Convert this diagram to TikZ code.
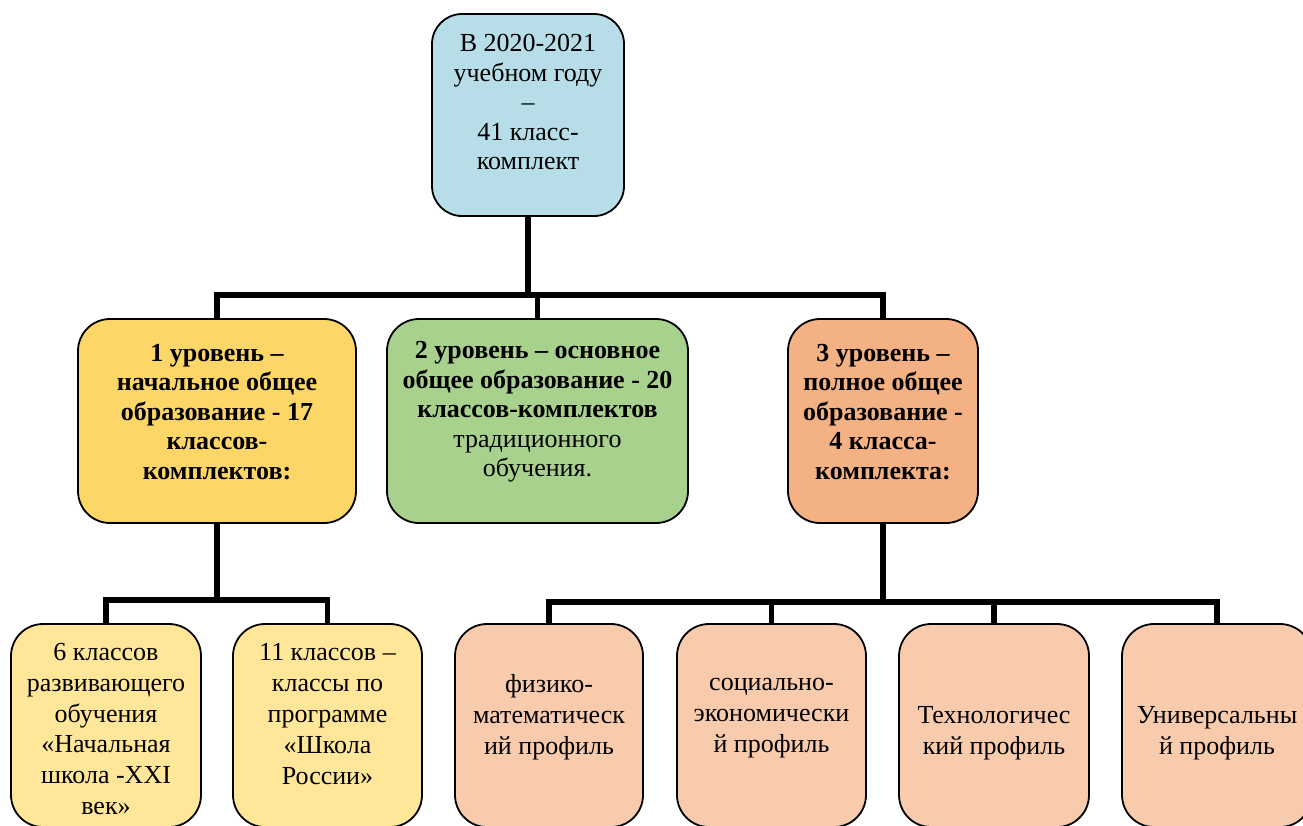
\documentclass[tikz,border=0pt]{standalone}
\usepackage{fontspec}
\setmainfont{Liberation Serif}
\definecolor{cTop}{HTML}{B7DEE8}
\definecolor{cL1}{HTML}{FDD668}
\definecolor{cL2}{HTML}{A9D18E}
\definecolor{cL3}{HTML}{F4B183}
\definecolor{cB1}{HTML}{FFE699}
\definecolor{cB3}{HTML}{F8CBAD}
\begin{document}
\begin{tikzpicture}[x=1pt,y=-1pt,
  box/.style={draw=black, line width=1.8pt, rounded corners=32pt, inner sep=0pt, outer sep=0pt},
  txt/.style={align=center, inner sep=0pt, font=\fontsize{26}{29.5}\selectfont},
  txtb/.style={align=center, inner sep=0pt, font=\fontsize{26}{30.9}\selectfont},
  conn/.style={line width=5.5pt, black}]
\clip (0,0) rectangle (1303,825);
% top
\node[box, fill=cTop, minimum width=192pt, minimum height=202pt, rounded corners=30pt] (top) at (528,115) {};
\node[txt] (topt) at (528,102) {В 2020-2021\\учебном году\\–\\41 класс-\\комплект};
% level 2
\node[box, fill=cL1, minimum width=278pt, minimum height=204pt] (l1) at (217,421) {};
\node[box, fill=cL2, minimum width=301pt, minimum height=204pt] (l2) at (537.5,421) {};
\node[box, fill=cL3, minimum width=190pt, minimum height=204pt] (l3) at (883,421) {};
\node[txt, font=\fontsize{26}{29.5}\selectfont\bfseries] (l1t) at (217,412) {1 уровень –\\начальное общее\\образование - 17\\классов-\\комплектов:};
\node[txt] (l2t) at (537.5,412) {\textbf{2 уровень – основное}\\\textbf{общее образование - 20}\\\textbf{классов-комплектов}\\традиционного\\обучения.};
\node[txt, font=\fontsize{26}{29.5}\selectfont\bfseries] (l3t) at (883,412) {3 уровень –\\полное общее\\образование -\\4 класса-\\комплекта:};
% level 3
\node[box, fill=cB1, minimum width=190pt, minimum height=203pt] (b1) at (106,725.5) {};
\node[box, fill=cB1, minimum width=189pt, minimum height=203pt] (b2) at (327.5,725.5) {};
\node[box, fill=cB3, minimum width=188pt, minimum height=203pt] (b3) at (549,725.5) {};
\node[box, fill=cB3, minimum width=189pt, minimum height=203pt] (b4) at (771.5,725.5) {};
\node[box, fill=cB3, minimum width=190pt, minimum height=203pt] (b5) at (994,725.5) {};
\node[box, fill=cB3, minimum width=190pt, minimum height=203pt] (b6) at (1217,725.5) {};
\node[txtb] (b1t) at (106,729) {6 классов\\развивающего\\обучения\\«Начальная\\школа -XXI\\век»};
\node[txtb] (b2t) at (327.5,714) {11 классов –\\классы по\\программе\\«Школа\\России»};
\node[txtb] (b3t) at (549,717) {физико-\\математическ\\ий профиль};
\node[txtb] (b4t) at (771.5,718) {социально-\\экономически\\й профиль};
\node[txtb] (b5t) at (994,733) {Технологичес\\кий профиль};
\node[txtb] (b6t) at (1217,733) {Универсальны\\й профиль};
% connectors
\coordinate (j1) at (528,295);
\draw[conn] (top.south) -- (j1);
\draw[conn] (l1.north) |- (j1) -| (l3.north);
\draw[conn] (l2.north) -- (l2.north |- j1);
\coordinate (j2) at (217,600);
\draw[conn] (l1.south) -- (j2);
\draw[conn] (b1.north) |- (j2) -| (b2.north);
\coordinate (j3) at (883,602);
\draw[conn] (l3.south) -- (j3);
\draw[conn] (b3.north) |- (j3) -| (b6.north);
\draw[conn] (b4.north) -- (b4.north |- j3);
\draw[conn] (b5.north) -- (b5.north |- j3);
\end{tikzpicture}
\end{document}
